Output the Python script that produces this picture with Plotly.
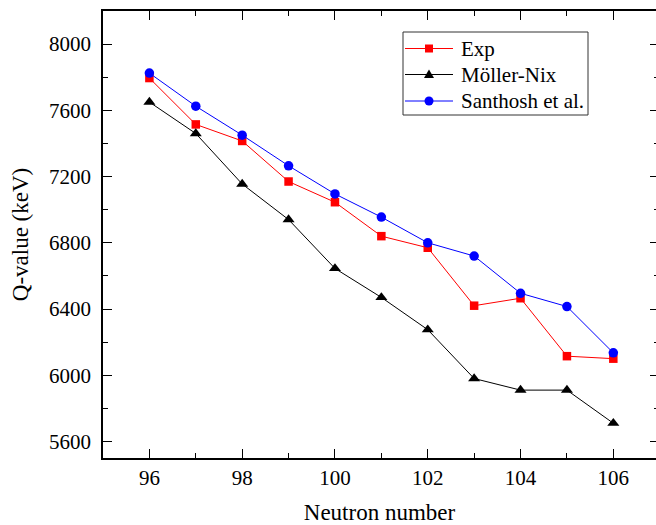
import plotly.graph_objects as go

# Neutron number and Q-values (keV)
neutron = [96, 97, 98, 99, 100, 101, 102, 103, 104, 105, 106]
q_exp = [7795, 7515, 7415, 7170, 7045, 6840, 6770, 6420, 6465, 6115, 6100]
q_moller_nix = [7650, 7460, 7155, 6940, 6645, 6470, 6275, 5980, 5910, 5910, 5710]
q_santhosh = [7825, 7625, 7450, 7265, 7095, 6955, 6800, 6720, 6495, 6415, 6135]

series_names = ["Exp", "Möller-Nix", "Santhosh et al."]
series_colors = ["#ff0000", "#000000", "#0000ff"]
series_symbols = ["square", "triangle-up", "circle"]

FONT = "Liberation Serif"
Y_RANGE = [5500, 8200]
W, H = 656, 525
M_L, M_R, M_T, M_B = 103, 0, 11, 67

fig = go.Figure()
for vals, name, col, sym, size in zip(
    [q_exp, q_moller_nix, q_santhosh], series_names, series_colors, series_symbols, [8.5, 10.5, 9.5]
):
    fig.add_trace(go.Scatter(
        x=neutron, y=vals, name=name, mode="lines+markers", showlegend=False,
        line=dict(color=col, width=1),
        marker=dict(symbol=sym, size=size, color=col),
    ))
# empty trace so the right-hand tick axis is drawn
fig.add_trace(go.Scatter(x=[], y=[], yaxis="y2", showlegend=False, hoverinfo="skip"))


# legend box drawn by hand (pixel positions converted to paper units)
def px_x(p):
    return (p - M_L) / (W - M_L - M_R)


def px_y(p):
    return (H - M_B - p) / (H - M_T - M_B)


shapes = [dict(type="rect", xref="paper", yref="paper",
               x0=px_x(403), x1=px_x(588), y0=px_y(32), y1=px_y(115),
               line=dict(color="#333", width=1), fillcolor="white", layer="above")]
annotations = []
rows = [48.5, 74.5, 101]
mx = 429
for row, name, col, sym in zip(rows, series_names, series_colors, series_symbols):
    shapes.append(dict(type="line", xref="paper", yref="paper",
                       x0=px_x(405), x1=px_x(453), y0=px_y(row), y1=px_y(row),
                       line=dict(color=col, width=1), layer="above"))
    if sym == "square":
        shapes.append(dict(type="rect", xref="paper", yref="paper",
                           x0=px_x(mx - 4), x1=px_x(mx + 4),
                           y0=px_y(row + 4), y1=px_y(row - 4),
                           line=dict(width=0), fillcolor=col, layer="above"))
    elif sym == "circle":
        shapes.append(dict(type="circle", xref="paper", yref="paper",
                           x0=px_x(mx - 4.5), x1=px_x(mx + 4.5),
                           y0=px_y(row + 4.5), y1=px_y(row - 4.5),
                           line=dict(width=0), fillcolor=col, layer="above"))
    else:
        path = "M {:.5f} {:.5f} L {:.5f} {:.5f} L {:.5f} {:.5f} Z".format(
            px_x(mx - 5), px_y(row + 3.5), px_x(mx + 5), px_y(row + 3.5), px_x(mx), px_y(row - 5))
        shapes.append(dict(type="path", xref="paper", yref="paper", path=path,
                           line=dict(width=0), fillcolor=col, layer="above"))
    annotations.append(dict(xref="paper", yref="paper", x=px_x(459), y=px_y(row),
                            xanchor="left", yanchor="middle", showarrow=False, text=name,
                            font=dict(family=FONT, size=21, color="black")))

fig.update_layout(
    width=W, height=H,
    margin=dict(l=M_L, r=M_R, t=M_T, b=M_B),
    paper_bgcolor="white", plot_bgcolor="white",
    font=dict(family=FONT, size=21, color="black"),
    showlegend=False,
    shapes=shapes, annotations=annotations,
    xaxis=dict(
        range=[95, 106.92], tick0=0, dtick=2,
        showgrid=False, zeroline=False,
        showline=True, linecolor="black", linewidth=1.6, mirror="ticks",
        ticks="inside", ticklen=9, tickwidth=1.4, tickcolor="black",
        minor=dict(dtick=1, ticks="inside", ticklen=5, tickwidth=1.4, tickcolor="black"),
        tickfont=dict(family=FONT, size=21),
        title=dict(text="Neutron number", font=dict(family=FONT, size=23), standoff=17),
    ),
    yaxis=dict(
        range=Y_RANGE, tick0=0, dtick=400,
        showgrid=False, zeroline=False,
        showline=True, linecolor="black", linewidth=1.6,
        ticks="inside", ticklen=9, tickwidth=1.4, tickcolor="black",
        minor=dict(dtick=200, ticks="inside", ticklen=5, tickwidth=1.4, tickcolor="black"),
        tickfont=dict(family=FONT, size=21), ticklabelstandoff=6,
        title=dict(text="Q-value (keV)", font=dict(family=FONT, size=23), standoff=14),
    ),
    yaxis2=dict(
        range=Y_RANGE, tick0=0, dtick=400, overlaying="y", side="right",
        showgrid=False, zeroline=False, showline=False, showticklabels=False,
        ticks="inside", ticklen=6, tickwidth=1.4, tickcolor="black",
        minor=dict(dtick=200, ticks="inside", ticklen=2, tickwidth=1.4, tickcolor="black"),
    ),
)

fig.write_html("out.html")
